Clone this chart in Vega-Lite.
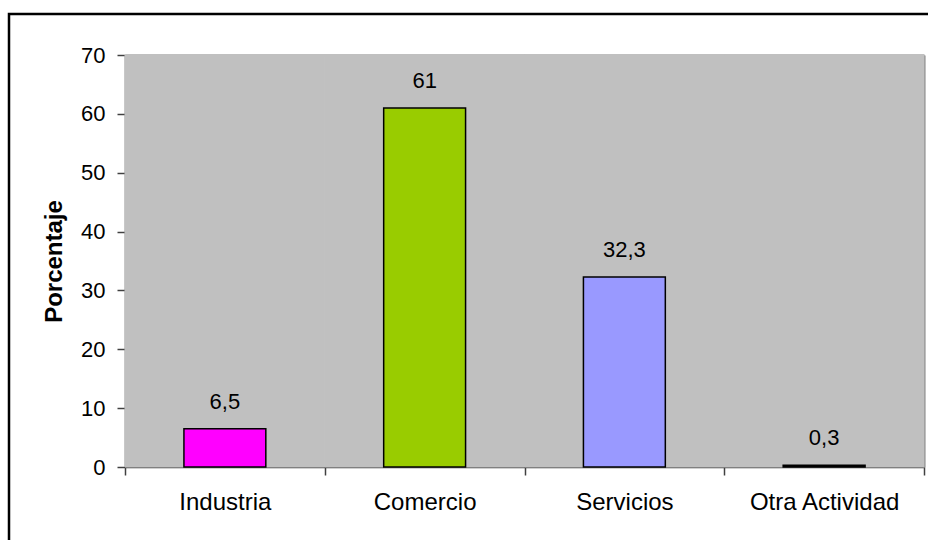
{
  "$schema": "https://vega.github.io/schema/vega-lite/v6.json",
  "autosize": "none",
  "width": 930,
  "height": 537,
  "padding": {"left": 9, "top": 14, "right": -11, "bottom": -11},
  "background": "white",
  "config": {
    "view": {"stroke": "black", "strokeWidth": 2.5},
    "font": "Liberation Sans",
    "locale": {"number": {"decimal": ",", "thousands": ".", "grouping": [3], "currency": ["", " €"]}},
    "axis": {"grid": false, "zindex": 1}
  },
  "data": {
    "values": [
      {"actividad": "Industria", "porcentaje": 6.5},
      {"actividad": "Comercio", "porcentaje": 61},
      {"actividad": "Servicios", "porcentaje": 32.3},
      {"actividad": "Otra Actividad", "porcentaje": 0.3}
    ]
  },
  "layer": [
    {
      "mark": {"type": "bar", "fill": "#C0C0C0", "stroke": "#C0C0C0", "strokeWidth": 1, "width": {"band": 1}},
      "encoding": {
        "x": {
          "field": "actividad", "type": "nominal", "sort": null,
          "scale": {"range": [116, 915], "paddingInner": 0, "paddingOuter": 0},
          "axis": {"orient": "top", "offset": -41, "labels": false, "ticks": false, "title": null, "domainColor": "#808080", "domainWidth": 2}
        },
        "y": {
          "datum": 70, "type": "quantitative",
          "scale": {"domain": [0, 70], "range": [453, 41], "nice": false},
          "axis": {"orient": "right", "offset": -15, "labels": false, "ticks": false, "title": null, "domainColor": "#808080", "domainWidth": 2}
        }
      }
    },
    {
      "mark": {"type": "bar", "stroke": "black", "strokeWidth": 1.5, "width": {"band": 0.41}},
      "encoding": {
        "x": {
          "field": "actividad", "type": "nominal", "sort": null,
          "axis": {"orient": "bottom", "offset": -84, "title": null, "labelFontSize": 24, "labelColor": "black", "labelPadding": 15, "labelAngle": 0, "tickBand": "extent", "tickSize": 8, "domainColor": "#404040", "tickColor": "#404040", "domainWidth": 1.5, "tickWidth": 1.5}
        },
        "y": {
          "field": "porcentaje", "type": "quantitative",
          "axis": {"orient": "left", "offset": -116, "title": "Porcentaje", "titleFontSize": 24, "titleFontWeight": "bold", "titleColor": "black", "titlePadding": 14, "labelFontSize": 22, "labelColor": "black", "labelPadding": 12, "tickSize": 8, "values": [0, 10, 20, 30, 40, 50, 60, 70], "domainColor": "#404040", "tickColor": "#404040", "domainWidth": 1.5, "tickWidth": 1.5}
        },
        "fill": {
          "field": "actividad", "type": "nominal",
          "scale": {"domain": ["Industria", "Comercio", "Servicios", "Otra Actividad"], "range": ["#FF00FF", "#99CC00", "#9999FF", "#000000"]},
          "legend": null
        }
      }
    },
    {
      "mark": {"type": "text", "dy": -20, "baseline": "alphabetic", "fontSize": 22, "color": "black"},
      "encoding": {
        "x": {"field": "actividad", "type": "nominal", "sort": null, "axis": null},
        "y": {"field": "porcentaje", "type": "quantitative", "axis": null},
        "text": {"field": "porcentaje", "type": "quantitative", "format": ".1~f"}
      }
    }
  ]
}
